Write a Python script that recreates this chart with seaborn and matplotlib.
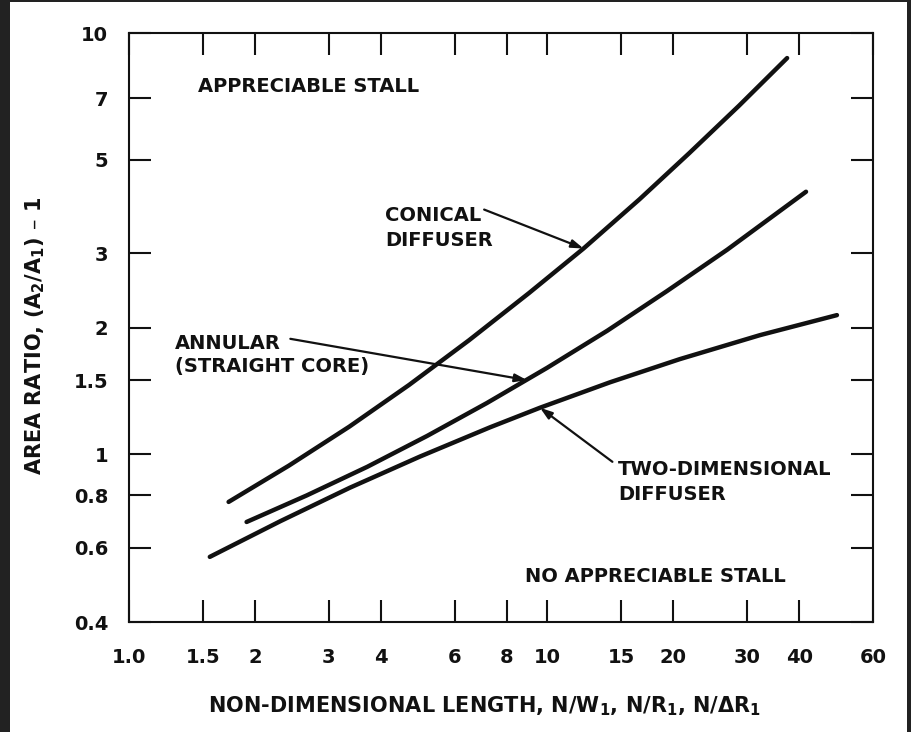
import matplotlib
matplotlib.use("Agg")
import matplotlib.pyplot as plt
import seaborn as sns
import pandas as pd
from matplotlib.patches import Rectangle
from matplotlib.ticker import NullLocator

# curves (log-log)
conical_x = [1.73, 2.41, 3.36, 4.67, 6.49, 9.04, 12.2, 16.6, 21.8, 28.7, 37.4]
conical_y = [0.771, 0.940, 1.163, 1.461, 1.864, 2.415, 3.08, 4.03, 5.18, 6.72, 8.72]

annular_x = [1.91, 2.66, 3.71, 5.16, 7.17, 9.98, 13.9, 19.3, 26.9, 41.5]
annular_y = [0.691, 0.799, 0.934, 1.106, 1.324, 1.604, 1.965, 2.44, 3.06, 4.20]

twodim_x = [1.56, 2.30, 3.37, 4.96, 7.29, 9.60, 14.1, 20.7, 32.2, 49.2]
twodim_y = [0.571, 0.694, 0.833, 0.988, 1.159, 1.29, 1.482, 1.682, 1.918, 2.14]

x_ticks = [1.0, 1.5, 2, 3, 4, 6, 8, 10, 15, 20, 30, 40, 60]
x_tick_labels = ["1.0", "1.5", "2", "3", "4", "6", "8", "10", "15", "20", "30", "40", "60"]
y_ticks = [0.4, 0.6, 0.8, 1, 1.5, 2, 3, 5, 7, 10]
y_tick_labels = ["0.4", "0.6", "0.8", "1", "1.5", "2", "3", "5", "7", "10"]

# label arrows: (tail, head) in data units
conical_arrow = ((7.06, 3.81), (12.2, 3.08))
annular_arrow = ((2.43, 1.88), (8.94, 1.50))
twodim_arrow = ((14.3, 0.96), (9.6, 1.29))

ink = "#111111"

df = pd.concat([
    pd.DataFrame({"x": conical_x, "y": conical_y, "curve": "conical"}),
    pd.DataFrame({"x": annular_x, "y": annular_y, "curve": "annular"}),
    pd.DataFrame({"x": twodim_x, "y": twodim_y, "curve": "twodim"}),
])

sns.set_theme(style="ticks")
plt.rcParams["font.family"] = ["DejaVu Sans"]
plt.rcParams["font.weight"] = "bold"
plt.rcParams["mathtext.fontset"] = "dejavusans"
plt.rcParams["mathtext.default"] = "bf"

fig = plt.figure(figsize=(9.11, 7.32), dpi=100, facecolor="#222222")
fig.patches.append(Rectangle((10 / 911, 0), 897 / 911, 730 / 732,
                             transform=fig.transFigure, facecolor="white",
                             edgecolor="none", zorder=-1))
ax = fig.add_axes([129 / 911, 110 / 732, 744 / 911, 589 / 732])
ax.set_facecolor("white")

sns.lineplot(data=df, x="x", y="y", hue="curve", units="curve", estimator=None,
             palette=[ink] * 3, lw=3.2, legend=False, ax=ax,
             solid_capstyle="round", solid_joinstyle="round")

ax.set_xscale("log")
ax.set_yscale("log")
ax.set_xlim(1, 60)
ax.set_ylim(0.4, 10)
ax.set_xticks(x_ticks)
ax.set_xticklabels(x_tick_labels)
ax.set_yticks(y_ticks)
ax.set_yticklabels(y_tick_labels)
ax.xaxis.set_minor_locator(NullLocator())
ax.yaxis.set_minor_locator(NullLocator())
ax.tick_params(which="major", direction="in", length=16, width=1.5, color=ink,
               top=True, right=True, labelsize=14, labelcolor=ink)
ax.tick_params(axis="x", pad=19)
ax.tick_params(axis="y", pad=15)
for s in ax.spines.values():
    s.set_linewidth(1.5)
    s.set_color(ink)

ax.set_xlabel("NON-DIMENSIONAL LENGTH, N/W$_1$, N/R$_1$, N/\u0394R$_1$",
              fontsize=15, fontweight="bold", color=ink)
ax.xaxis.set_label_coords(0.478, -0.143)
ax.xaxis.label.set_va("center")
ax.set_ylabel("AREA RATIO, (A$_2$/A$_1$) \u2013 1", fontsize=15,
              fontweight="bold", color=ink)
ax.yaxis.set_label_coords(-0.126, 0.486)
ax.yaxis.label.set_va("center")

txt = dict(fontsize=14, fontweight="bold", color=ink, ha="left", va="center")
ax.text(1.46, 7.46, "APPRECIABLE STALL", **txt)
ax.text(8.84, 0.512, "NO APPRECIABLE STALL", **txt)
ax.text(4.09, 3.45, "CONICAL\nDIFFUSER", linespacing=1.4, **txt)
ax.text(1.288, 1.72, "ANNULAR\n(STRAIGHT CORE)", linespacing=1.3, **txt)
ax.text(14.75, 0.86, "TWO-DIMENSIONAL\nDIFFUSER", linespacing=1.4, **txt)

for tail, head in [conical_arrow, annular_arrow, twodim_arrow]:
    ax.annotate("", xy=head, xytext=tail,
                arrowprops=dict(arrowstyle="-|>,head_length=0.6,head_width=0.2",
                                color=ink, lw=1.6, shrinkA=0, shrinkB=0))

fig.savefig("out.png", dpi=100, facecolor=fig.get_facecolor())
